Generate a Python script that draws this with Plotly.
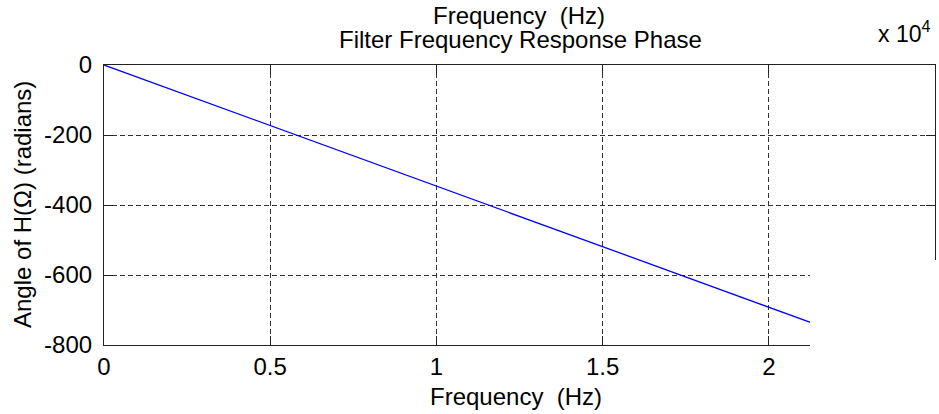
import plotly.graph_objects as go

# Data (frequency in Hz, phase in radians)
freq_hz = [0, 5000, 10000, 15000, 20000, 25000]
phase_rad = [0, -173, -346, -519, -692, -865]

x_tick_vals = [0, 5000, 10000, 15000, 20000, 25000]
x_tick_text = ["0", "0.5", "1", "1.5", "2", "2.5"]
y_tick_vals = [0, -200, -400, -600, -800]
y_tick_text = ["0", "-200", "-400", "-600", "-800"]

W, H = 939, 414
L, R, T, B = 104, 4, 65, 69
PW, PH = W - L - R, H - T - B

def px(x):
    return (x - L) / PW

def py(y):
    return (H - B - y) / PH

FONT = "Liberation Sans, Arial, sans-serif"

fig = go.Figure()
fig.add_trace(go.Scatter(x=freq_hz, y=phase_rad, mode="lines",
                         line=dict(color="#0000ff", width=1.3),
                         showlegend=False, hoverinfo="skip"))

axis_common = dict(
    showline=True, linecolor="#222222", linewidth=1.2, mirror="ticks",
    ticks="inside", ticklen=9, tickcolor="#222222", tickwidth=1.2,
    showgrid=True, gridcolor="#333333", gridwidth=1, griddash="5px,3px",
    zeroline=False, tickfont=dict(family=FONT, size=24, color="black"),
)

fig.update_xaxes(range=[0, 25000], tickmode="array", tickvals=x_tick_vals,
                 ticktext=x_tick_text, ticklabelstandoff=0, **axis_common)
fig.update_yaxes(range=[-800, 0], tickmode="array", tickvals=y_tick_vals,
                 ticktext=y_tick_text, ticklabelstandoff=6, **axis_common)

annos = [
    dict(text="Frequency\u00a0 (Hz)", x=px(519), y=py(16)),
    dict(text="Filter Frequency Response Phase", x=px(520), y=py(39)),
    dict(text="Frequency\u00a0 (Hz)", x=px(516), y=py(396)),
    dict(text="Angle of H(\u03a9) (radians)", x=px(22), y=py(205), textangle=-90),
]
for a in annos:
    fig.add_annotation(xref="paper", yref="paper", showarrow=False,
                       xanchor="center", yanchor="middle",
                       font=dict(family=FONT, size=24, color="black"), **a)
fig.add_annotation(xref="paper", yref="paper", showarrow=False,
                   x=px(876), y=py(32), xanchor="left", yanchor="middle",
                   text="x 10<sup>4</sup>",
                   font=dict(family=FONT, size=23, color="black"))

# white block covering lower right corner (as in the reference image)
fig.add_shape(type="rect", xref="paper", yref="paper",
              x0=px(810), x1=1.2, y0=-0.5, y1=py(260),
              fillcolor="white", line=dict(width=0), layer="above")

fig.update_layout(width=W, height=H, margin=dict(l=L, r=R, t=T, b=B),
                  paper_bgcolor="white", plot_bgcolor="white",
                  font=dict(family=FONT, size=24, color="black"))

fig.write_html("out.html")
